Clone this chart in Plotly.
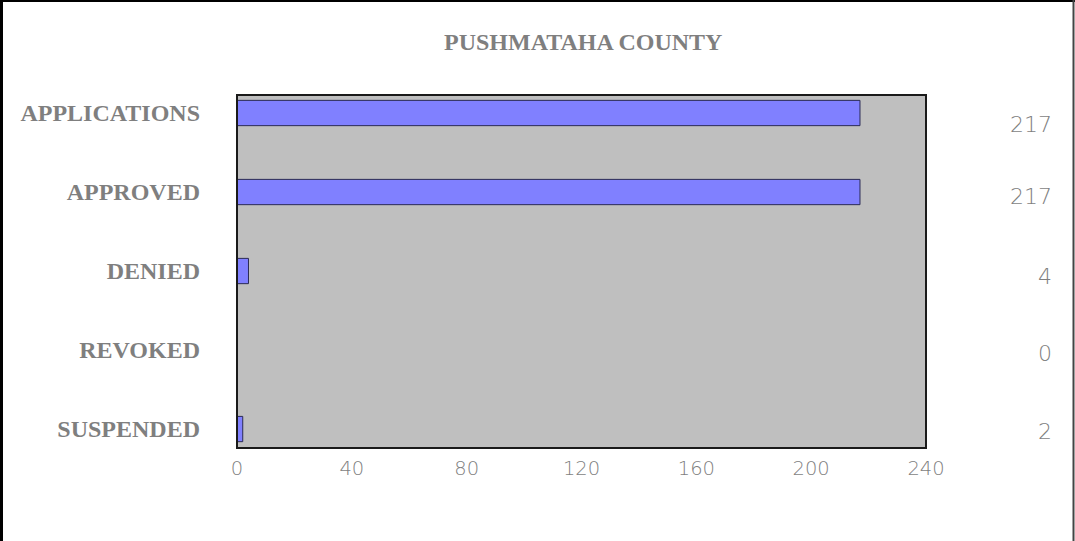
import plotly.graph_objects as go

# Permit status counts
categories = ["APPLICATIONS", "APPROVED", "DENIED", "REVOKED", "SUSPENDED"]
counts = [217, 217, 4, 0, 2]
x_ticks = [0, 40, 80, 120, 160, 200, 240]
title_text = "PUSHMATAHA COUNTY"

W, H = 1075, 541
ML, MR, MT, MB = 237, 149, 95, 93
PW, PH = W - ML - MR, H - MT - MB


def px_x(p):
    return (p - ML) / PW


def px_y(p):
    return (H - MB - p) / PH


serif = "Liberation Serif, Times New Roman, serif"
light = "DejaVu Sans ExtraLight, DejaVu Sans, Verdana, sans-serif"
gray = "#7f7f7f"

fig = go.Figure(
    go.Bar(
        x=counts,
        y=categories,
        orientation="h",
        width=0.32,
        marker=dict(color="#8080FF", line=dict(color="#2a2a55", width=1)),
        hoverinfo="x+y",
    )
)

# value column on the right
for cat, v, dy in zip(categories, counts, [-11, -4, -5, -3, -2]):
    fig.add_annotation(
        x=px_x(1054), xref="paper", y=cat, yref="y", yshift=dy,
        text=str(v), showarrow=False, xanchor="right", yanchor="middle",
        font=dict(family=light, size=22, color=gray, weight=200),
    )

fig.add_annotation(
    x=px_x(583), xref="paper", y=px_y(42), yref="paper",
    text=f"<b>{title_text}</b>", showarrow=False, xanchor="center", yanchor="middle",
    font=dict(family=serif, size=24, color=gray),
)

# plot frame
fig.add_shape(type="rect", xref="paper", yref="paper", x0=0, x1=1, y0=0, y1=1,
              line=dict(color="#1a1a1a", width=2), layer="above")
# outer chart border (left, top, right)
fig.add_shape(type="line", xref="paper", yref="paper", x0=px_x(1.5), x1=px_x(1.5),
              y0=px_y(0), y1=px_y(H + 5), line=dict(color="black", width=3))
fig.add_shape(type="line", xref="paper", yref="paper", x0=px_x(0), x1=px_x(W),
              y0=px_y(1), y1=px_y(1), line=dict(color="black", width=2))
fig.add_shape(type="line", xref="paper", yref="paper", x0=px_x(1073.5), x1=px_x(1073.5),
              y0=px_y(0), y1=px_y(H + 5), line=dict(color="#444444", width=2))

fig.update_layout(
    width=W, height=H,
    margin=dict(l=ML, r=MR, t=MT, b=MB),
    paper_bgcolor="white",
    plot_bgcolor="#BFBFBF",
    showlegend=False,
    xaxis=dict(
        range=[0, 240], tickvals=x_ticks, showgrid=False, zeroline=False,
        ticks="", ticklabelstandoff=6,
        tickfont=dict(family=light, size=19.5, color=gray, weight=200),
        fixedrange=True,
    ),
    yaxis=dict(
        type="category", categoryorder="array", categoryarray=categories,
        range=[4.24, -0.228], showgrid=False, zeroline=False, ticks="",
        ticklabelstandoff=36,
        tickfont=dict(family=serif, size=24, color=gray, weight="bold"),
        fixedrange=True,
    ),
)

fig.write_html("out.html")
